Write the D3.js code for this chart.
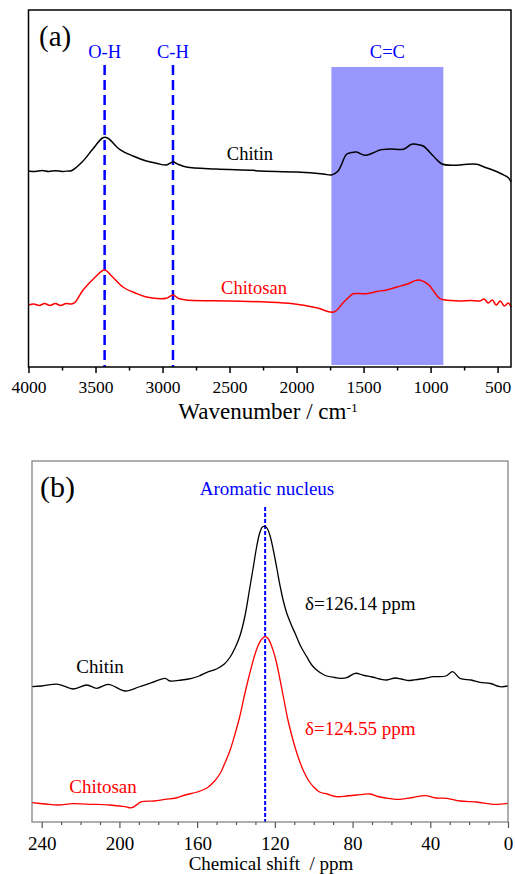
<!DOCTYPE html>
<html><head><meta charset="utf-8">
<script src="https://cdn.jsdelivr.net/npm/d3@7"></script>
<style>
html,body{margin:0;padding:0;background:#fff;}
text{font-family:"Liberation Serif","Times New Roman",serif;}
</style></head>
<body><svg id="chart" width="515" height="874"></svg>
<script>
// ---------- Panel (a): FTIR ----------
const ftirTicks = [4000,3500,3000,2500,2000,1500,1000,500];
const ftirMinor = [3750,3250,2750,2250,1750,1250,750];
const ftirBands = [{label:"O-H", wn:3432},{label:"C-H", wn:2922}];
const ccBand = {label:"C=C", from:1740, to:905};
const chitinIR = [[4000,196],[3950,195.5],[3900,196.5],[3850,195.5],[3800,196.3],[3750,195.6],[3700,196],[3681,196.2],[3600,205],[3520,218],[3445,229.3],[3410,229],[3320,217.7],[3220,211],[3121,206],[3040,203.5],[2972,202],[2922,205],[2880,202.5],[2822,200],[2600,198],[2325,196.7],[2275,196],[2000,195],[1800,193],[1739,192],[1690,196],[1627,212.7],[1590,214.5],[1553,215],[1490,211.7],[1430,214],[1378,217],[1300,218],[1204,217.7],[1142,222.7],[1100,222.5],[1055,221],[980,211],[918,203.3],[831,201.7],[750,202.5],[656,202.7],[600,200],[532,196.7],[470,193],[420,189.3],[400,185]];
const chitosanIR = [[4000,62],[3960,63],[3920,61.5],[3880,63.5],[3840,61.5],[3800,63.5],[3760,61.5],[3720,63.5],[3680,63],[3656,64.3],[3594,76.7],[3507,89.3],[3432,97],[3380,91],[3296,80],[3208,74.3],[3121,70],[2972,68.7],[2922,72],[2880,68.5],[2822,67],[2500,66],[2225,65],[2026,63.3],[1851,59.3],[1722,55],[1652,64.3],[1600,71],[1578,73.3],[1478,73.3],[1400,75.5],[1329,77],[1250,80],[1179,82.7],[1092,87],[1018,82.7],[930,68.3],[850,66.5],[781,66],[700,66.5],[632,66],[600,68],[570,64],[540,67],[510,62],[480,66],[450,61],[420,64],[400,60]];
const ftirSeries = [{name:"Chitin", color:"#000000", data:chitinIR, lx:250, ly:160},
                    {name:"Chitosan", color:"#ff0000", data:chitosanIR, lx:254, ly:294}];

// ---------- Panel (b): 13C NMR ----------
const nmrTicks = [240,200,160,120,80,40,0];
const nmrMinor = [230,220,210,190,180,170,150,140,130,110,100,90,70,60,50,30,20,10];
const aromatic = {label:"Aromatic nucleus", ppm:125};
const chitinNMR = [[245,135.3],[240,136],[231.5,137.7],[223.7,133],[216.8,137],[211.7,133.7],[205.7,137.7],[197,131],[190,135],[183.4,139.3],[176.5,143.7],[174,141],[168,142],[162.8,143.7],[159,146],[155,149.7],[150,153],[146,158],[143,165],[140.5,174],[138,186],[135.5,205],[133,233],[131,256],[129.3,276],[127.8,289],[126.3,295.3],[125,295.5],[123.9,293.5],[122.3,285],[120.8,272],[119,254],[117.3,236],[115.5,220],[113.9,209],[111.5,197],[109.6,188.7],[106.5,175],[103.6,165.3],[101,157],[98.5,152],[95.5,148],[93.3,146],[89,144.5],[86.5,143.7],[83,144.3],[78.7,148.7],[74,146.5],[70,145],[66,143],[62.4,142],[58,144],[55,143],[51,141.5],[48.7,142],[43,143.5],[38.4,145.3],[32,146],[28.5,150.3],[24.7,143.7],[19,142],[14.4,139.7],[9,138.5],[4.1,135.3],[0,136]];
const chitosanNMR = [[245,19.3],[238,18],[231.5,17],[224,18.3],[214,17.7],[205,17],[197,15.3],[193.7,14.3],[188.5,20.3],[182,21],[176.5,22.7],[171,24],[166.2,27],[160,30],[155,34],[151,41],[148,49],[145.5,60],[143,72],[140.5,88],[138,106],[135.5,128],[133,148],[130.5,166],[128.5,177],[126.5,183.5],[125,185.3],[123.5,183.5],[121.5,175],[119.5,162],[117.5,144],[115.5,124],[113.5,104],[111.5,88],[109.5,74],[107.5,62],[105,50],[102.5,41],[100,35],[97,30],[93,28],[88.2,25.3],[83,26],[77.9,27],[71,28],[67,25.5],[63,24],[55.6,22.7],[49,24.5],[42.7,26.3],[37,24],[31.5,23.7],[24.7,21],[16,20],[7.6,17.7],[0,18.7]];
const nmrSeries = [{name:"Chitin", color:"#000000", data:chitinNMR, lx:100, ly:673, dl:"\u03b4=126.14 ppm", dy:610},
                   {name:"Chitosan", color:"#ff0000", data:chitosanNMR, lx:103, ly:793, dl:"\u03b4=124.55 ppm", dy:735}];

const svg = d3.select("#chart");

// ===== Panel (a) =====
const A = {l:28.5, r:511, t:10, b:367};
const xa = d3.scaleLinear().domain([4000,400]).range([A.l, A.r]);
const ya = d3.scaleLinear().domain([0,357]).range([A.b, A.t]);
const ga = svg.append("g");

ga.append("rect").attr("x", xa(ccBand.from)).attr("y", 67)
  .attr("width", xa(ccBand.to)-xa(ccBand.from)).attr("height", A.b-2-67)
  .attr("fill", "#9797fd");
ga.append("text").attr("x", (xa(ccBand.from)+xa(ccBand.to))/2).attr("y", 58)
  .attr("text-anchor","middle").attr("font-size",18.5).attr("fill","#0000ff").text(ccBand.label);

ftirBands.forEach(b => {
  ga.append("line").attr("x1", xa(b.wn)).attr("x2", xa(b.wn)).attr("y1", 65).attr("y2", A.b)
    .attr("stroke","#0000ff").attr("stroke-width",2.5).attr("stroke-dasharray","10,5");
  ga.append("text").attr("x", xa(b.wn)).attr("y", 58).attr("text-anchor","middle")
    .attr("font-size",18.5).attr("fill","#0000ff").text(b.label);
});

const lineA = d3.line().x(d=>xa(d[0])).y(d=>ya(d[1])).curve(d3.curveCatmullRom.alpha(0.5));
ftirSeries.forEach(s => {
  ga.append("path").datum(s.data).attr("d", lineA).attr("fill","none")
    .attr("stroke", s.color).attr("stroke-width",1.5);
  ga.append("text").attr("x", s.lx).attr("y", s.ly).attr("text-anchor","middle")
    .attr("font-size",18.5).attr("fill", s.color).text(s.name);
});

ga.append("rect").attr("x",A.l).attr("y",A.t).attr("width",A.r-A.l).attr("height",A.b-A.t)
  .attr("fill","none").attr("stroke","#000").attr("stroke-width",1.5);

const axA = ga.append("g").attr("transform",`translate(0,${A.b})`)
  .call(d3.axisBottom(xa).tickValues(ftirTicks).tickSize(6).tickSizeOuter(0).tickPadding(4).tickFormat(d3.format("d")));
axA.select(".domain").remove();
axA.selectAll("line").attr("stroke","#000").attr("stroke-width",1.5);
axA.selectAll("text").attr("font-size",17.5).attr("font-family","Liberation Serif").attr("fill","#000").attr("dy","0.9em");
const axAm = ga.append("g").attr("transform",`translate(0,${A.b})`)
  .call(d3.axisBottom(xa).tickValues(ftirMinor).tickSize(3.5).tickSizeOuter(0).tickFormat(""));
axAm.select(".domain").remove();
axAm.selectAll("line").attr("stroke","#000").attr("stroke-width",1.5);

const titleA = ga.append("text").attr("x", 268).attr("y", 419).attr("text-anchor","middle")
  .attr("font-size",23).attr("fill","#000");
titleA.append("tspan").text("Wavenumber / cm");
titleA.append("tspan").attr("font-size",13.5).attr("dy",-7.5).text("-1");

ga.append("text").attr("x",39).attr("y",46).attr("font-size",29).attr("fill","#000").text("(a)");

// ===== Panel (b) =====
const B = {l:32, r:508, t:461, b:822};
const xb = d3.scaleLinear().domain([245,0]).range([B.l, B.r]);
const yb = d3.scaleLinear().domain([0,361]).range([B.b, B.t]);
const gb = svg.append("g");

gb.append("line").attr("x1", xb(aromatic.ppm)).attr("x2", xb(aromatic.ppm)).attr("y1", 507).attr("y2", B.b)
  .attr("stroke","#0000ff").attr("stroke-width",2).attr("stroke-dasharray","4,2");
gb.append("text").attr("x", 267).attr("y", 495).attr("text-anchor","middle")
  .attr("font-size",19).attr("fill","#0000ff").text(aromatic.label);

const lineB = d3.line().x(d=>xb(d[0])).y(d=>yb(d[1])).curve(d3.curveCatmullRom.alpha(0.5));
nmrSeries.forEach(s => {
  gb.append("path").datum(s.data).attr("d", lineB).attr("fill","none")
    .attr("stroke", s.color).attr("stroke-width",1.3);
  gb.append("text").attr("x", s.lx).attr("y", s.ly).attr("text-anchor","middle")
    .attr("font-size",19).attr("fill", s.color).text(s.name);
  gb.append("text").attr("x", 305).attr("y", s.dy)
    .attr("font-size",19).attr("fill", s.color).text(s.dl);
});

gb.append("rect").attr("x",B.l).attr("y",B.t).attr("width",B.r-B.l).attr("height",B.b-B.t)
  .attr("fill","none").attr("stroke","#7a7a7a").attr("stroke-width",1.2);

const axB = gb.append("g").attr("transform",`translate(0,${B.b})`)
  .call(d3.axisBottom(xb).tickValues(nmrTicks).tickSize(6).tickSizeOuter(0).tickPadding(4).tickFormat(d3.format("d")));
axB.select(".domain").remove();
axB.selectAll("line").attr("stroke","#555").attr("stroke-width",1.2);
axB.selectAll("text").attr("font-size",19).attr("font-family","Liberation Serif").attr("fill","#000").attr("dy","0.95em");
const axBm = gb.append("g").attr("transform",`translate(0,${B.b})`)
  .call(d3.axisBottom(xb).tickValues(nmrMinor).tickSize(3).tickSizeOuter(0).tickFormat(""));
axBm.select(".domain").remove();
axBm.selectAll("line").attr("stroke","#555").attr("stroke-width",1.2);

gb.append("text").attr("x", 271).attr("y", 870).attr("text-anchor","middle")
  .attr("font-size",19).attr("fill","#000").attr("xml:space","preserve").text("Chemical shift  / ppm");

gb.append("text").attr("x",40).attr("y",497).attr("font-size",30).attr("fill","#000").text("(b)");
</script></body></html>
